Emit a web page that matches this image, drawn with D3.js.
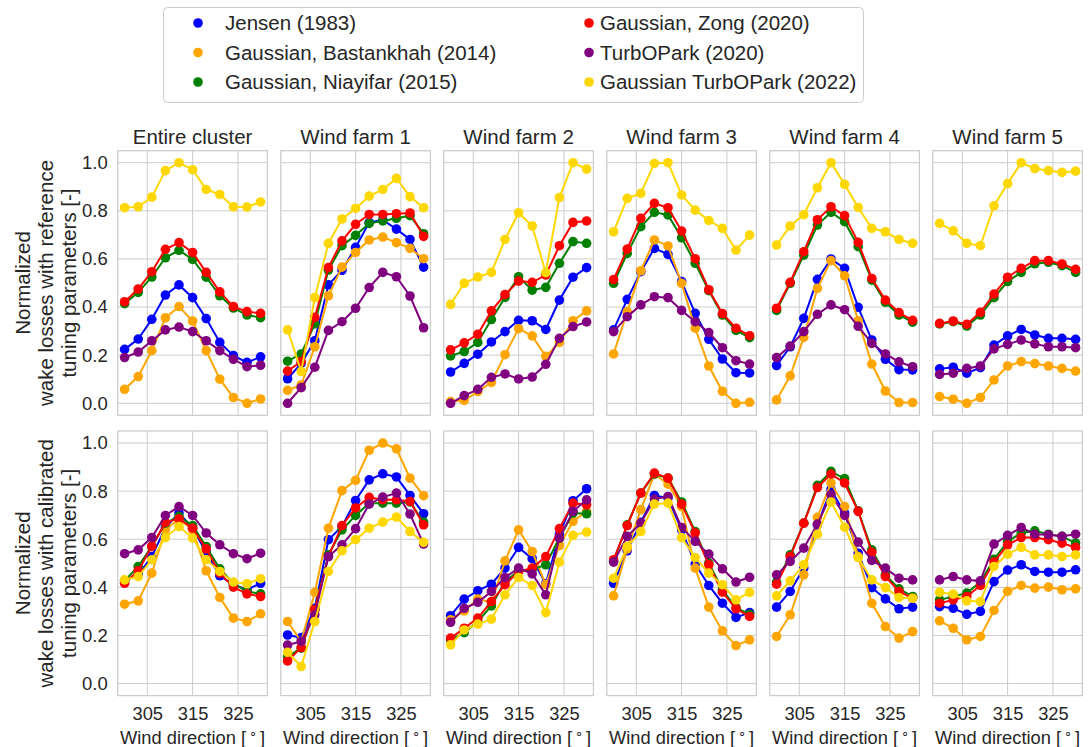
<!DOCTYPE html>
<html>
<head>
<meta charset="utf-8">
<script src="https://cdn.jsdelivr.net/npm/d3@7"></script>
<style>
  body { margin: 0; background: #fff; }
  svg { font-family: "Liberation Sans", Arial, sans-serif; }
</style>
</head>
<body>
<div class="canvas"></div>
<script>
// wind directions and labels
const directions = [300, 303, 306, 309, 312, 315, 318, 321, 324, 327, 330];
const models = [
  "Jensen (1983)",
  "Gaussian, Bastankhah (2014)",
  "Gaussian, Niayifar (2015)",
  "Gaussian, Zong (2020)",
  "TurbOPark (2020)",
  "Gaussian TurbOPark (2022)",
];
const panelTitles = ["Entire cluster", "Wind farm 1", "Wind farm 2", "Wind farm 3", "Wind farm 4", "Wind farm 5"];
const rowLabels = [
  ["Normalized", "wake losses with reference", "tuning parameters [-]"],
  ["Normalized", "wake losses with calibrated", "tuning parameters [-]"],
];
const xTicks = [305, 315, 325];
const yTicks = [0, 0.2, 0.4, 0.6, 0.8, 1.0];

// reference tuning parameters (rows follow models order)
const refCluster = [
  [0.224, 0.267, 0.349, 0.450, 0.492, 0.439, 0.352, 0.253, 0.198, 0.170, 0.193],
  [0.058, 0.111, 0.219, 0.355, 0.402, 0.342, 0.219, 0.100, 0.024, 0.000, 0.018],
  [0.414, 0.461, 0.525, 0.605, 0.636, 0.598, 0.524, 0.447, 0.396, 0.367, 0.356],
  [0.422, 0.475, 0.547, 0.640, 0.668, 0.627, 0.544, 0.463, 0.402, 0.381, 0.374],
  [0.190, 0.213, 0.260, 0.305, 0.317, 0.298, 0.260, 0.219, 0.183, 0.152, 0.158],
  [0.813, 0.817, 0.857, 0.967, 1.000, 0.971, 0.889, 0.868, 0.817, 0.816, 0.837],
];
const refFarm1 = [
  [0.102, 0.166, 0.260, 0.492, 0.553, 0.648, 0.752, 0.762, 0.724, 0.681, 0.566],
  [0.054, 0.076, 0.235, 0.447, 0.566, 0.627, 0.679, 0.691, 0.668, 0.644, 0.601],
  [0.175, 0.205, 0.330, 0.554, 0.655, 0.698, 0.748, 0.758, 0.769, 0.780, 0.705],
  [0.134, 0.173, 0.357, 0.564, 0.675, 0.744, 0.785, 0.785, 0.788, 0.791, 0.694],
  [0.000, 0.065, 0.150, 0.303, 0.339, 0.395, 0.481, 0.544, 0.526, 0.446, 0.314],
  [0.305, 0.132, 0.439, 0.665, 0.766, 0.810, 0.861, 0.889, 0.935, 0.859, 0.813],
];
const refFarm2 = [
  [0.130, 0.166, 0.204, 0.255, 0.298, 0.345, 0.343, 0.307, 0.429, 0.524, 0.564],
  [0.007, 0.012, 0.048, 0.087, 0.202, 0.310, 0.280, 0.195, 0.253, 0.343, 0.384],
  [0.197, 0.215, 0.253, 0.348, 0.440, 0.526, 0.470, 0.482, 0.582, 0.672, 0.665],
  [0.222, 0.251, 0.287, 0.384, 0.452, 0.508, 0.503, 0.533, 0.655, 0.752, 0.758],
  [0.000, 0.032, 0.058, 0.108, 0.122, 0.101, 0.109, 0.162, 0.270, 0.319, 0.338],
  [0.411, 0.499, 0.525, 0.544, 0.681, 0.792, 0.737, 0.543, 0.855, 1.000, 0.974],
];
const refFarm3 = [
  [0.305, 0.432, 0.547, 0.644, 0.619, 0.506, 0.374, 0.266, 0.184, 0.127, 0.126],
  [0.205, 0.381, 0.551, 0.679, 0.654, 0.499, 0.312, 0.155, 0.050, 0.000, 0.004],
  [0.499, 0.623, 0.734, 0.794, 0.783, 0.688, 0.582, 0.468, 0.367, 0.303, 0.273],
  [0.514, 0.641, 0.769, 0.831, 0.813, 0.716, 0.601, 0.472, 0.373, 0.312, 0.281],
  [0.298, 0.360, 0.409, 0.443, 0.439, 0.386, 0.339, 0.294, 0.231, 0.177, 0.163],
  [0.713, 0.852, 0.873, 0.997, 1.000, 0.866, 0.803, 0.760, 0.727, 0.637, 0.699],
];
const refFarm4 = [
  [0.157, 0.235, 0.353, 0.515, 0.600, 0.561, 0.399, 0.263, 0.183, 0.140, 0.139],
  [0.014, 0.114, 0.274, 0.478, 0.593, 0.530, 0.343, 0.163, 0.051, 0.003, 0.003],
  [0.386, 0.499, 0.616, 0.741, 0.794, 0.755, 0.651, 0.512, 0.420, 0.367, 0.337],
  [0.395, 0.503, 0.630, 0.763, 0.817, 0.780, 0.669, 0.519, 0.429, 0.377, 0.345],
  [0.190, 0.238, 0.298, 0.370, 0.409, 0.389, 0.320, 0.249, 0.205, 0.172, 0.152],
  [0.658, 0.737, 0.784, 0.896, 1.000, 0.910, 0.814, 0.727, 0.713, 0.681, 0.665],
];
const refFarm5 = [
  [0.143, 0.150, 0.125, 0.148, 0.242, 0.280, 0.307, 0.284, 0.270, 0.270, 0.266],
  [0.028, 0.017, 0.000, 0.024, 0.097, 0.155, 0.173, 0.165, 0.155, 0.145, 0.134],
  [0.330, 0.339, 0.321, 0.367, 0.439, 0.506, 0.544, 0.580, 0.586, 0.572, 0.544],
  [0.332, 0.342, 0.328, 0.378, 0.454, 0.524, 0.561, 0.593, 0.593, 0.579, 0.557],
  [0.120, 0.125, 0.145, 0.155, 0.226, 0.245, 0.263, 0.247, 0.235, 0.235, 0.231],
  [0.748, 0.717, 0.665, 0.655, 0.821, 0.913, 1.000, 0.976, 0.967, 0.960, 0.965],
];

// calibrated tuning parameters
const calCluster = [
  [0.427, 0.452, 0.528, 0.649, 0.709, 0.646, 0.546, 0.448, 0.411, 0.390, 0.417],
  [0.330, 0.344, 0.459, 0.639, 0.685, 0.639, 0.469, 0.358, 0.272, 0.258, 0.290],
  [0.427, 0.487, 0.570, 0.667, 0.695, 0.657, 0.570, 0.477, 0.417, 0.383, 0.373],
  [0.417, 0.469, 0.570, 0.670, 0.685, 0.646, 0.560, 0.459, 0.401, 0.373, 0.362],
  [0.540, 0.556, 0.607, 0.699, 0.736, 0.699, 0.626, 0.577, 0.540, 0.519, 0.542],
  [0.431, 0.445, 0.515, 0.607, 0.653, 0.605, 0.515, 0.466, 0.422, 0.415, 0.436],
];
const calFarm1 = [
  [0.202, 0.191, 0.313, 0.598, 0.653, 0.761, 0.847, 0.872, 0.859, 0.782, 0.706],
  [0.258, 0.175, 0.379, 0.646, 0.802, 0.845, 0.970, 1.000, 0.976, 0.854, 0.781],
  [0.112, 0.147, 0.307, 0.535, 0.639, 0.699, 0.750, 0.750, 0.750, 0.755, 0.671],
  [0.094, 0.150, 0.307, 0.528, 0.657, 0.730, 0.774, 0.764, 0.764, 0.757, 0.660],
  [0.160, 0.175, 0.286, 0.528, 0.577, 0.644, 0.746, 0.775, 0.792, 0.705, 0.580],
  [0.130, 0.071, 0.258, 0.466, 0.552, 0.598, 0.646, 0.671, 0.692, 0.632, 0.587],
];
const calFarm2 = [
  [0.282, 0.351, 0.386, 0.413, 0.480, 0.566, 0.519, 0.415, 0.619, 0.760, 0.810],
  [0.265, 0.302, 0.351, 0.338, 0.510, 0.639, 0.549, 0.411, 0.574, 0.674, 0.716],
  [0.182, 0.212, 0.258, 0.323, 0.424, 0.469, 0.473, 0.494, 0.605, 0.709, 0.706],
  [0.189, 0.230, 0.272, 0.341, 0.411, 0.466, 0.480, 0.528, 0.644, 0.750, 0.743],
  [0.255, 0.313, 0.338, 0.383, 0.441, 0.480, 0.456, 0.369, 0.605, 0.716, 0.764],
  [0.161, 0.223, 0.247, 0.268, 0.369, 0.441, 0.408, 0.295, 0.505, 0.616, 0.630],
];
const calFarm3 = [
  [0.417, 0.552, 0.670, 0.782, 0.771, 0.639, 0.497, 0.408, 0.334, 0.275, 0.295],
  [0.365, 0.560, 0.723, 0.871, 0.829, 0.736, 0.480, 0.318, 0.219, 0.158, 0.182],
  [0.511, 0.660, 0.792, 0.871, 0.854, 0.755, 0.632, 0.501, 0.390, 0.316, 0.288],
  [0.515, 0.657, 0.792, 0.875, 0.854, 0.746, 0.626, 0.494, 0.380, 0.311, 0.279],
  [0.505, 0.612, 0.667, 0.767, 0.778, 0.649, 0.591, 0.538, 0.477, 0.422, 0.442],
  [0.438, 0.570, 0.632, 0.746, 0.750, 0.607, 0.524, 0.459, 0.411, 0.348, 0.379],
];
const calFarm4 = [
  [0.318, 0.383, 0.480, 0.660, 0.806, 0.709, 0.542, 0.399, 0.352, 0.311, 0.318],
  [0.196, 0.286, 0.452, 0.691, 0.834, 0.736, 0.528, 0.334, 0.237, 0.189, 0.216],
  [0.422, 0.535, 0.667, 0.824, 0.882, 0.852, 0.718, 0.556, 0.452, 0.394, 0.362],
  [0.413, 0.528, 0.667, 0.815, 0.871, 0.834, 0.716, 0.546, 0.445, 0.383, 0.355],
  [0.452, 0.508, 0.563, 0.663, 0.785, 0.699, 0.588, 0.512, 0.480, 0.438, 0.431],
  [0.365, 0.427, 0.494, 0.621, 0.755, 0.650, 0.524, 0.431, 0.399, 0.358, 0.355],
];
const calFarm5 = [
  [0.320, 0.313, 0.288, 0.300, 0.424, 0.472, 0.494, 0.466, 0.463, 0.463, 0.473],
  [0.261, 0.230, 0.182, 0.196, 0.304, 0.383, 0.408, 0.397, 0.401, 0.390, 0.394],
  [0.348, 0.362, 0.376, 0.422, 0.517, 0.591, 0.626, 0.635, 0.621, 0.612, 0.584],
  [0.334, 0.348, 0.362, 0.408, 0.505, 0.577, 0.607, 0.607, 0.598, 0.584, 0.566],
  [0.431, 0.445, 0.431, 0.427, 0.580, 0.616, 0.649, 0.621, 0.619, 0.612, 0.621],
  [0.379, 0.372, 0.344, 0.341, 0.487, 0.538, 0.566, 0.535, 0.535, 0.528, 0.535],
];

const colors = ["#0000ff", "#ffa500", "#008000", "#ff0000", "#800080", "#ffd700"];

const rows = [
  [refCluster, refFarm1, refFarm2, refFarm3, refFarm4, refFarm5],
  [calCluster, calFarm1, calFarm2, calFarm3, calFarm4, calFarm5],
];

// layout
const width = 1088;
const height = 747;
const panelLeft = 117.8;
const panelStep = 163;
const panelWidth = 149.6;
const panelHeight = 264.6;
const rowTops = [150.7, 431];
const textColor = "#262626";

const svg = d3
  .select(".canvas")
  .append("svg")
  .attr("width", width)
  .attr("height", height);

// scales
const x = d3.scaleLinear().domain([298.5, 331.5]).range([0, panelWidth]);
const y = d3.scaleLinear().domain([-0.05, 1.05]).range([panelHeight, 0]);

const line = d3
  .line()
  .x((d, i) => x(directions[i]))
  .y((d) => y(d));

rows.forEach((panels, r) => {
  panels.forEach((series, c) => {
    const g = svg
      .append("g")
      .attr("transform", `translate(${panelLeft + c * panelStep}, ${rowTops[r]})`);

    // grid
    g.selectAll(".gx")
      .data(xTicks)
      .enter()
      .append("line")
      .attr("x1", (d) => x(d))
      .attr("x2", (d) => x(d))
      .attr("y1", 0)
      .attr("y2", panelHeight)
      .attr("stroke", "#cccccc")
      .attr("stroke-width", 1);
    g.selectAll(".gy")
      .data(yTicks)
      .enter()
      .append("line")
      .attr("x1", 0)
      .attr("x2", panelWidth)
      .attr("y1", (d) => y(d))
      .attr("y2", (d) => y(d))
      .attr("stroke", "#cccccc")
      .attr("stroke-width", 1);

    // frame
    g.append("rect")
      .attr("width", panelWidth)
      .attr("height", panelHeight)
      .attr("fill", "none")
      .attr("stroke", "#cccccc")
      .attr("stroke-width", 1.25);

    // series
    series.forEach((vals, s) => {
      g.append("path")
        .datum(vals)
        .attr("fill", "none")
        .attr("stroke", colors[s])
        .attr("stroke-width", 2)
        .attr("d", line);
      g.selectAll(".pt" + s)
        .data(vals)
        .enter()
        .append("circle")
        .attr("cx", (d, i) => x(directions[i]))
        .attr("cy", (d) => y(d))
        .attr("r", 4.8)
        .attr("fill", colors[s]);
    });

    // axes
    if (c === 0) {
      const yAxis = d3.axisLeft(y).tickValues(yTicks).tickSize(0).tickPadding(10).tickFormat(d3.format(".1f"));
      const ya = g.append("g").call(yAxis);
      ya.select(".domain").remove();
      ya.selectAll("text").attr("font-size", 18.5).attr("fill", textColor).attr("font-family", null);
    }
    if (r === 1) {
      const xAxis = d3.axisBottom(x).tickValues(xTicks).tickSize(0).tickPadding(11.5);
      const xa = g.append("g").attr("transform", `translate(0, ${panelHeight})`).call(xAxis);
      xa.select(".domain").remove();
      xa.selectAll("text").attr("font-size", 18.3).attr("fill", textColor).attr("font-family", null);

      const lbl = g
        .append("text")
        .attr("x", panelWidth / 2)
        .attr("y", panelHeight + 48)
        .attr("text-anchor", "middle")
        .attr("font-size", 18.3)
        .attr("fill", textColor);
      lbl.append("tspan").text("Wind direction [");
      lbl.append("tspan").attr("dy", -7).attr("dx", 3).attr("font-size", 13).text("\u2218");
      lbl.append("tspan").attr("dy", 7).attr("dx", 3).text("]");
    }
    if (r === 0) {
      g.append("text")
        .attr("x", panelWidth / 2)
        .attr("y", -7)
        .attr("text-anchor", "middle")
        .attr("font-size", 20.5)
        .attr("fill", textColor)
        .text(panelTitles[c]);
    }
  });

  // row label
  const cy = rowTops[r] + panelHeight / 2;
  rowLabels[r].forEach((txt, k) => {
    svg
      .append("text")
      .attr("transform", `translate(${29.5 + k * 23}, ${cy}) rotate(-90)`)
      .attr("text-anchor", "middle")
      .attr("font-size", 20.5)
      .attr("fill", textColor)
      .text(txt);
  });
});

// legend
const legend = svg.append("g");
legend
  .append("rect")
  .attr("x", 163.5)
  .attr("y", 7.5)
  .attr("width", 700)
  .attr("height", 95)
  .attr("rx", 4)
  .attr("fill", "#fff")
  .attr("stroke", "#cccccc");

const legendDots = [198, 589];
const legendText = [225, 600];
const legendRows = [23, 52.5, 82];
models.forEach((m, i) => {
  const col = Math.floor(i / 3);
  const row = i % 3;
  legend
    .append("circle")
    .attr("cx", legendDots[col])
    .attr("cy", legendRows[row])
    .attr("r", 4.8)
    .attr("fill", colors[i]);
  legend
    .append("text")
    .attr("x", legendText[col])
    .attr("y", legendRows[row])
    .attr("dy", "0.35em")
    .attr("font-size", 20.5)
    .attr("fill", textColor)
    .text(m);
});
</script>
</body>
</html>
